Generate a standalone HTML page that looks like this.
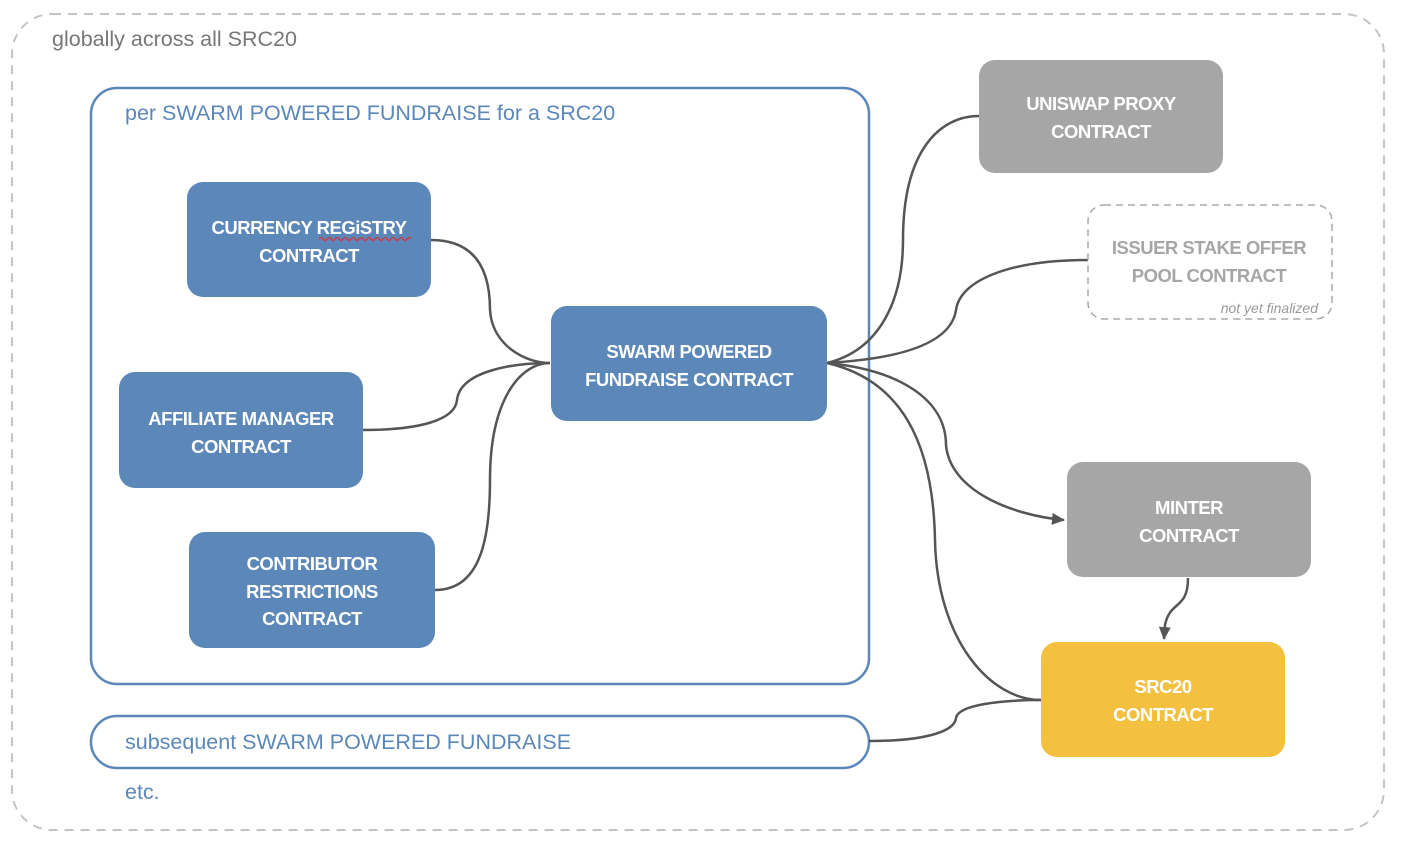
<!DOCTYPE html>
<html><head><meta charset="utf-8"><style>
html,body{margin:0;padding:0;background:#fff;}
svg{display:block;}
text{font-family:"Liberation Sans",sans-serif;}
.w{fill:#fff;font-size:18.5px;font-weight:bold;text-anchor:middle;letter-spacing:-0.5px;}
</style></head><body>
<svg width="1402" height="850" viewBox="0 0 1402 850" xmlns="http://www.w3.org/2000/svg">
<defs>
<marker id="ar" markerWidth="16" markerHeight="14" refX="12" refY="6" orient="auto" markerUnits="userSpaceOnUse">
<path d="M0,0 L13,6 L0,12 z" fill="#555"/></marker>
</defs>
<rect x="12" y="14" width="1372" height="816" rx="40" fill="none" stroke="#c4c4c4" stroke-width="2" stroke-dasharray="9,7"/>
<text x="52" y="46" font-size="21.5" fill="#777">globally across all SRC20</text>
<rect x="91" y="88" width="778" height="596" rx="26" fill="none" stroke="#5b87b9" stroke-width="2.5"/>
<text x="125" y="120" font-size="21.5" fill="#5b87b9">per SWARM POWERED FUNDRAISE for a SRC20</text>
<rect x="91" y="716" width="778" height="52" rx="26" fill="none" stroke="#5b87b9" stroke-width="2.5"/>
<text x="125" y="749" font-size="21.5" fill="#5b87b9">subsequent SWARM POWERED FUNDRAISE</text>
<text x="125" y="799" font-size="21.5" fill="#5b87b9">etc.</text>

<g fill="none" stroke="#555" stroke-width="2.5">
<path d="M431,240 C485,240 490,285 490,310 C492,345 525,363 550,363"/>
<path d="M363,430 C420,430 455,420 457,400 C460,372 510,363 550,363"/>
<path d="M435,590 C480,590 490,540 490,480 C490,400 520,363 550,363"/>
<path d="M827,363 C880,350 903,300 903,240 C903,150 940,116 979,116"/>
<path d="M827,363 C880,360 950,350 956,310 C960,280 1010,260 1088,260"/>
<path d="M827,363 C900,370 946,400 946,445 C950,490 1010,515 1064,520" marker-end="url(#ar)"/>
<path d="M827,363 C900,380 933,440 935,540 C937,640 990,700 1041,700"/>
<path d="M1188,578 C1188,610 1170,600 1165,625 L1164,639" marker-end="url(#ar)"/>
<path d="M869,741 C930,741 955,730 956,718 C958,705 1000,700 1041,700"/>
</g>

<rect x="187" y="182" width="244" height="115" rx="16" fill="#5b87b9"/>
<text class="w" x="309" y="234">CURRENCY REGiSTRY</text>
<text class="w" x="309" y="262">CONTRACT</text>
<path d="M319,239 q2,-3 4,0 t4,0 t4,0 t4,0 t4,0 t4,0 t4,0 t4,0 t4,0 t4,0 t4,0 t4,0 t4,0 t4,0 t4,0 t4,0 t4,0 t4,0 t4,0 t4,0 t4,0 t4,0 t4,0" fill="none" stroke="#e03030" stroke-width="1.3"/>
<rect x="119" y="372" width="244" height="116" rx="16" fill="#5b87b9"/>
<text class="w" x="241" y="425">AFFILIATE MANAGER</text>
<text class="w" x="241" y="453">CONTRACT</text>
<rect x="189" y="532" width="246" height="116" rx="16" fill="#5b87b9"/>
<text class="w" x="312" y="570">CONTRIBUTOR</text>
<text class="w" x="312" y="598">RESTRICTIONS</text>
<text class="w" x="312" y="625">CONTRACT</text>
<rect x="551" y="306" width="276" height="115" rx="16" fill="#5b87b9"/>
<text class="w" x="689" y="358">SWARM POWERED</text>
<text class="w" x="689" y="386">FUNDRAISE CONTRACT</text>

<rect x="979" y="60" width="244" height="113" rx="16" fill="#a6a6a6"/>
<text class="w" x="1101" y="110">UNISWAP PROXY</text>
<text class="w" x="1101" y="138">CONTRACT</text>
<rect x="1088" y="205" width="244" height="114" rx="16" fill="none" stroke="#aaa" stroke-width="1.5" stroke-dasharray="7,5"/>
<text x="1209" y="254" font-size="18.5" font-weight="bold" fill="#a6a6a6" text-anchor="middle" letter-spacing="-0.5">ISSUER STAKE OFFER</text>
<text x="1209" y="282" font-size="18.5" font-weight="bold" fill="#a6a6a6" text-anchor="middle" letter-spacing="-0.5">POOL CONTRACT</text>
<text x="1318" y="313" font-size="14" fill="#999" text-anchor="end" font-style="italic">not yet finalized</text>
<rect x="1067" y="462" width="244" height="115" rx="16" fill="#a6a6a6"/>
<text class="w" x="1189" y="514">MINTER</text>
<text class="w" x="1189" y="542">CONTRACT</text>
<rect x="1041" y="642" width="244" height="115" rx="16" fill="#f4c040"/>
<text class="w" x="1163" y="693">SRC20</text>
<text class="w" x="1163" y="721">CONTRACT</text>
</svg>
</body></html>
